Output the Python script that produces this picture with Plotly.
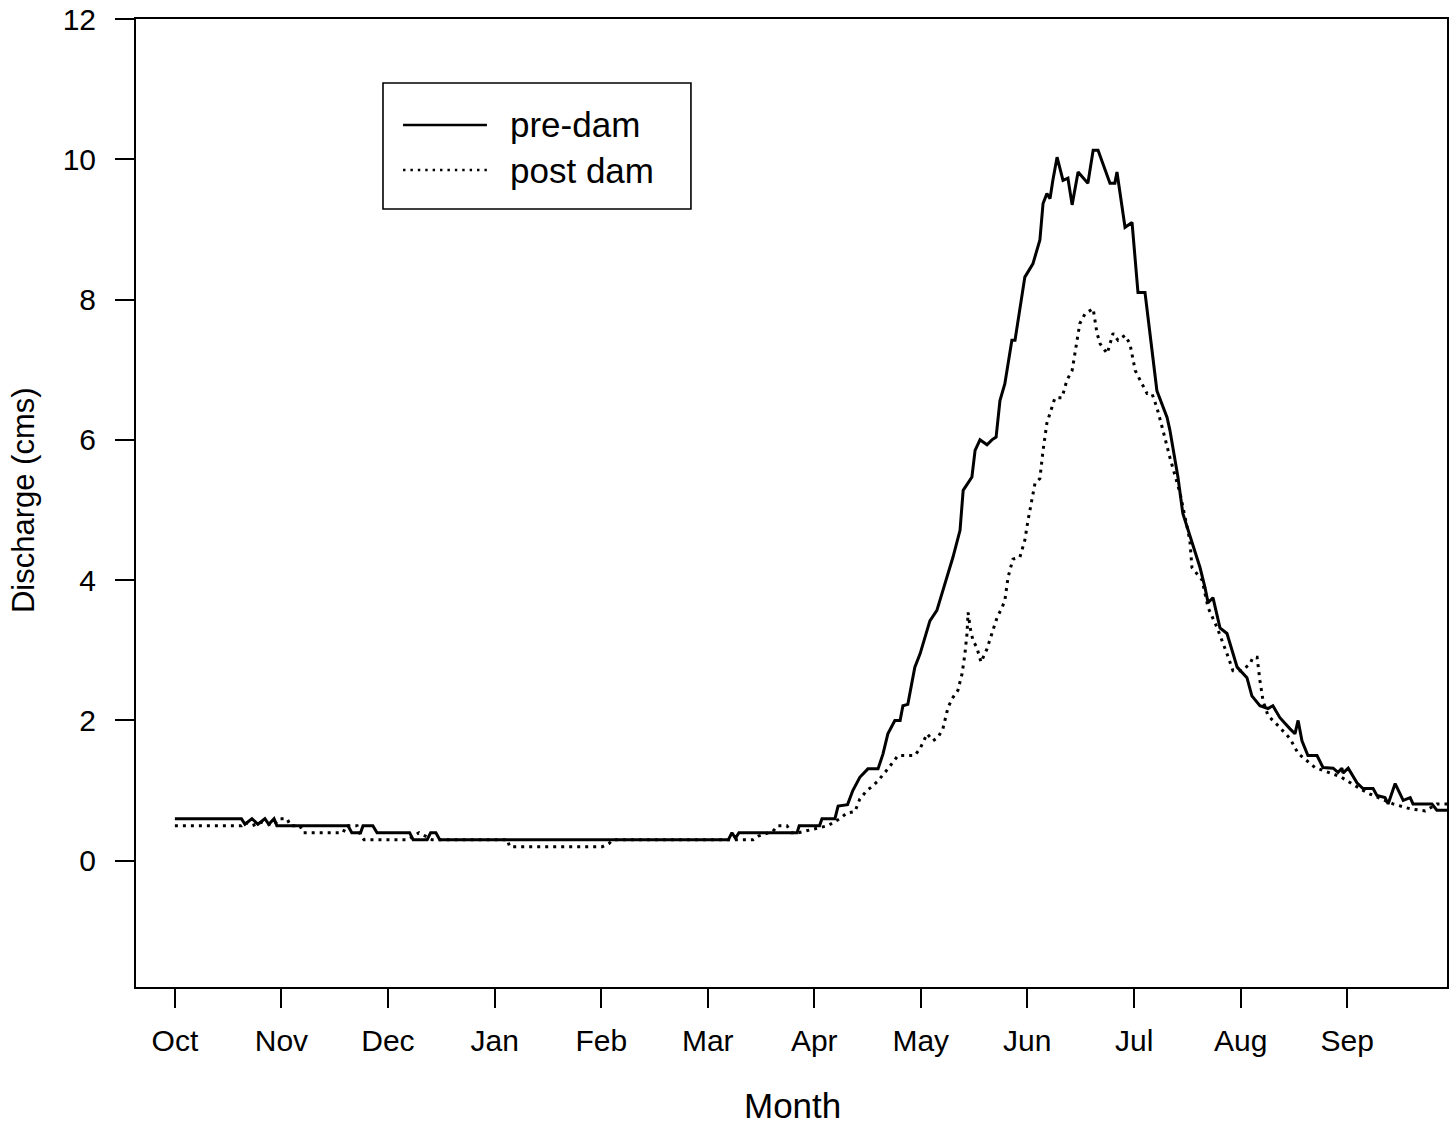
import plotly.graph_objects as go

# ---- data (day of water year starting Oct 1, discharge in cms)
pre_day = [0, 19, 20, 22, 23.7, 25.7, 26.8, 28.3, 29.1, 49.4,
           50.5, 53, 53.7, 56.5, 57.7, 67, 68, 72, 73, 74.5,
           75.6, 158, 159, 160, 161, 177.6, 178.2, 184, 184.7, 188.4,
           189.3, 192, 193.5, 195.5, 197.8, 200.7, 202.1, 203.5, 205.5, 207,
           207.8, 209.2, 211.2, 212.7, 215.5, 217.5, 219.2, 222.1, 224.1, 225,
           227.5, 228.4, 229.8, 231.8, 233.2, 234.4, 235.5, 236.9, 238.9, 239.8,
           242.6, 244.9, 246.9, 247.8, 248.9, 249.8, 250.6, 251.8, 253.5, 254.9,
           256.1, 257.8, 260.6, 262.1, 263.5, 264.9, 266.9, 268.3, 268.9, 271.2,
           273.2, 274.9, 276.9, 280.3, 283.2, 284, 286.3, 287.7, 292.6, 294,
           294.9, 296.3, 298.3, 300.3, 303.2, 306, 307.4, 309.7, 312, 313.4,
           315.4, 318.3, 319.7, 320.6, 321.7, 323.4, 326, 327.7, 330.6, 332,
           333.1, 333.4, 334.9, 337.4, 339.1, 342, 343.1, 345.4, 346.3, 348.3,
           350.6, 352.6, 353.4, 358.8, 360.2, 364]
pre_q = [0.6, 0.6, 0.52, 0.6, 0.52, 0.6, 0.52, 0.6, 0.5, 0.5,
         0.4, 0.4, 0.5, 0.5, 0.4, 0.4, 0.3, 0.3, 0.4, 0.4,
         0.3, 0.3, 0.4, 0.32, 0.4, 0.4, 0.5, 0.5, 0.6, 0.6,
         0.78, 0.8, 1.0, 1.19, 1.31, 1.31, 1.52, 1.81, 2.0, 2.0,
         2.21, 2.23, 2.76, 2.95, 3.42, 3.57, 3.85, 4.33, 4.71, 5.28,
         5.47, 5.85, 6.0, 5.93, 6.0, 6.04, 6.56, 6.8, 7.42, 7.42,
         8.32, 8.51, 8.85, 9.37, 9.51, 9.44, 9.7, 10.03, 9.7, 9.73,
         9.35, 9.82, 9.66, 10.13, 10.13, 9.94, 9.66, 9.66, 9.82, 9.03,
         9.1, 8.1, 8.1, 6.7, 6.32, 6.14, 5.47, 4.95, 4.18, 3.9,
         3.68, 3.75, 3.32, 3.24, 2.76, 2.61, 2.35, 2.21, 2.17, 2.21,
         2.04, 1.88, 1.81, 2.0, 1.71, 1.5, 1.5, 1.33, 1.32, 1.26,
         1.32, 1.25, 1.32, 1.11, 1.03, 1.03, 0.93, 0.9, 0.81, 1.1,
         0.86, 0.9, 0.81, 0.81, 0.72, 0.72]

post_day = [0, 19, 20, 22, 25, 28, 30, 32, 33, 35.7,
            36.6, 48, 49, 52, 53, 54, 66.5, 69.7, 73.4, 95,
            95.5, 122, 124, 125, 158, 162, 165, 166.5, 170.7, 172,
            174.7, 176, 178, 186.4, 189.8, 191.8, 194.1, 195.5, 197.5, 199.3,
            200.7, 203.5, 206.4, 211.2, 212.7, 214.7, 216.4, 217.8, 219.2, 220.7,
            222.1, 223.5, 224.7, 225.5, 226.1, 226.4, 227, 227.8, 228.9, 230.1,
            231.8, 233.2, 234.7, 236.1, 236.9, 237.8, 239.2, 241.2, 242.6, 243.5,
            244.6, 245.5, 246.9, 247.8, 248.9, 250.4, 251.2, 253.2, 254.6, 256.1,
            257.2, 258.3, 259.8, 262.1, 263.2, 264.1, 266.1, 266.9, 267.8, 269.2,
            271.2, 272.6, 274.1, 275.5, 277.5, 278.9, 280.3, 282, 284, 286.9,
            289.7, 290.3, 293.2, 294.9, 297.5, 300.3, 302, 304.6, 306.9, 307.7,
            308.9, 309.7, 310.6, 312, 315.4, 318.3, 320.6, 325.4, 332.6, 340.2,
            347.7, 352.6, 356.9, 360.2, 364]
post_q = [0.5, 0.5, 0.55, 0.5, 0.55, 0.5, 0.6, 0.6, 0.5, 0.5,
          0.4, 0.4, 0.5, 0.5, 0.36, 0.3, 0.3, 0.4, 0.3, 0.3,
          0.2, 0.2, 0.25, 0.3, 0.3, 0.3, 0.3, 0.35, 0.42, 0.5,
          0.5, 0.4, 0.4, 0.5, 0.6, 0.68, 0.7, 0.88, 1.0, 1.07,
          1.14, 1.31, 1.5, 1.5, 1.6, 1.81, 1.71, 1.76, 1.88, 2.19,
          2.33, 2.43, 2.67, 2.95, 3.24, 3.54, 3.32, 3.14, 3.04, 2.83,
          3.02, 3.24, 3.47, 3.61, 3.71, 4.04, 4.3, 4.33, 4.57, 4.85,
          5.14, 5.38, 5.45, 5.85, 6.24, 6.49, 6.6, 6.6, 6.85, 6.99,
          7.32, 7.66, 7.8, 7.87, 7.52, 7.37, 7.23, 7.37, 7.52, 7.42,
          7.49, 7.37, 6.99, 6.85, 6.66, 6.66, 6.46, 6.14, 5.75, 5.24,
          4.57, 4.18, 4.0, 3.61, 3.32, 2.95, 2.71, 2.71, 2.81, 2.9,
          2.9, 2.57, 2.28, 2.07, 1.9, 1.74, 1.53, 1.33, 1.2, 0.97,
          0.81, 0.74, 0.71, 0.81, 0.81]

month_pos = [0, 30.4, 60.8, 91.3, 121.7, 152.1, 182.5, 212.9, 243.3, 273.8, 304.2, 334.6]
month_labels = ["Oct", "Nov", "Dec", "Jan", "Feb", "Mar", "Apr", "May", "Jun", "Jul", "Aug", "Sep"]
y_ticks = [0, 2, 4, 6, 8, 10, 12]

assert len(pre_day) == len(pre_q) and len(post_day) == len(post_q)

FONT = "Liberation Sans, Arial, sans-serif"

fig = go.Figure()
fig.add_trace(go.Scatter(x=pre_day, y=pre_q, mode="lines", name="pre-dam",
                         line=dict(color="black", width=3), showlegend=False))
fig.add_trace(go.Scatter(x=post_day, y=post_q, mode="lines", name="post dam",
                         line=dict(color="black", width=3, dash="3px,5px"),
                         showlegend=False))

# manual legend box (paper coords)
fig.add_shape(type="rect", xref="paper", yref="paper", x0=0.1884, x1=0.4233, y0=0.8037, y1=0.9339,
              line=dict(color="black", width=1.6), fillcolor="white", layer="above")
fig.add_shape(type="line", xref="paper", yref="paper", x0=0.2037, x1=0.2677, y0=0.8905, y1=0.8905,
              line=dict(color="black", width=2.4))
fig.add_shape(type="line", xref="paper", yref="paper", x0=0.2037, x1=0.2677, y0=0.8440, y1=0.8440,
              line=dict(color="black", width=2.4, dash="2.4px,5px"))
fig.add_annotation(xref="paper", yref="paper", x=0.2838, y=0.8905, text="pre-dam", showarrow=False,
                   xanchor="left", yanchor="middle", font=dict(family=FONT, size=35, color="black"))
fig.add_annotation(xref="paper", yref="paper", x=0.2838, y=0.8440, text="post dam", showarrow=False,
                   xanchor="left", yanchor="middle", font=dict(family=FONT, size=35, color="black"))

# axis titles
fig.add_annotation(xref="paper", yref="paper", x=0.501, y=0, yshift=-118, text="Month", showarrow=False,
                   xanchor="center", yanchor="middle", font=dict(family=FONT, size=35, color="black"))
fig.add_annotation(xref="paper", yref="paper", x=0, xshift=-113, y=0.503, text="Discharge (cms)",
                   showarrow=False, textangle=-90, xanchor="center", yanchor="middle",
                   font=dict(family=FONT, size=31, color="black"))

fig.update_xaxes(range=[-11.1, 363.1], tickvals=month_pos, ticktext=month_labels,
                 ticks="outside", ticklen=19, tickwidth=2, tickcolor="black",
                 showline=True, linecolor="black", linewidth=2, mirror=True,
                 showgrid=False, zeroline=False, ticklabelstandoff=7, automargin=False,
                 tickfont=dict(family=FONT, size=30, color="black"))
fig.update_yaxes(range=[-1.8, 12], tickvals=y_ticks,
                 ticks="outside", ticklen=19, tickwidth=2, tickcolor="black",
                 showline=True, linecolor="black", linewidth=2, mirror=True,
                 showgrid=False, zeroline=False, ticklabelstandoff=13, automargin=False,
                 tickfont=dict(family=FONT, size=30, color="black"))

fig.update_layout(width=1456, height=1124, margin=dict(l=136, r=9, t=19, b=137),
                  paper_bgcolor="white", plot_bgcolor="white", showlegend=False)

fig.write_html("out.html")
